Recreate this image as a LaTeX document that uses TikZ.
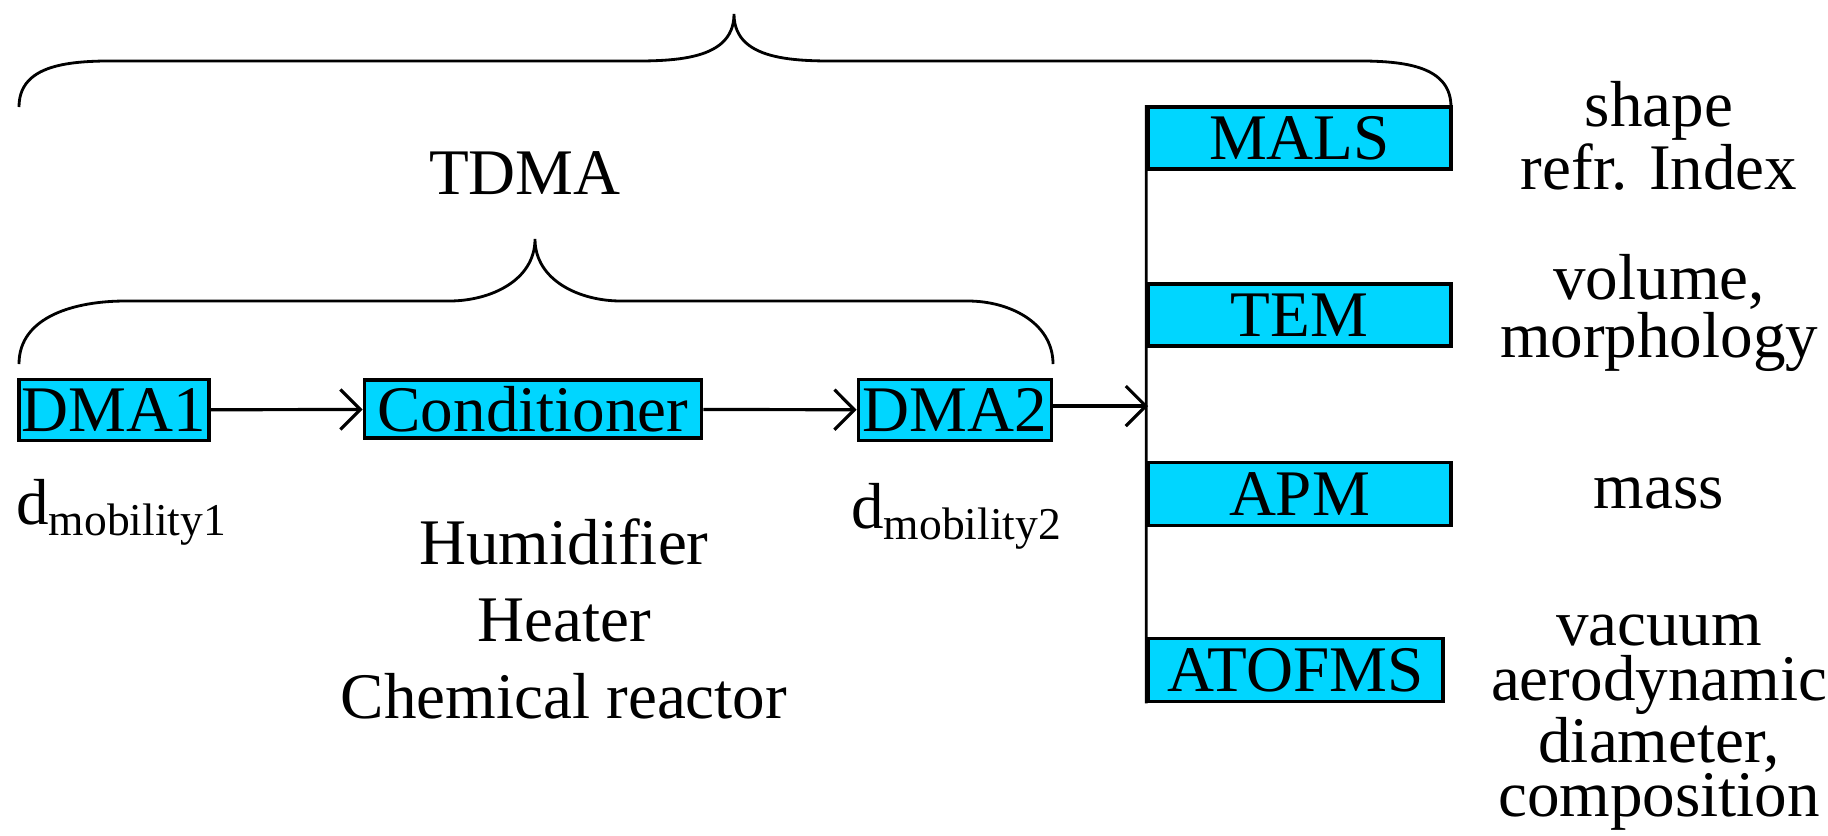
\documentclass[tikz,border=0pt]{standalone}
\usepackage{fontspec}
\setmainfont{Liberation Serif}
\usepackage{tikz}
\usetikzlibrary{arrows.meta, positioning}
\definecolor{instrcyan}{RGB}{0,214,255}
\tikzset{
  FlowArrow/.style = {
    draw, line width = 0.9pt,
    -{Straight Barb[length = 2mm, width = 4mm, line width = 0.9pt]},
  },
  InstrBox/.style = {
    draw, fill = instrcyan, line width = 1pt, inner sep = 0pt,
    font = \fontsize{18.5}{20}\selectfont,
  },
  Remark/.style = {
    align = center, inner sep = 0pt,
  }
}

\begin{document}
\begin{tikzpicture}[x = 0.01cm, y = -0.01cm, line width = 0.8pt,
    every node/.style = {font = \fontsize{18.5}{15}\selectfont}]
      \useasboundingbox (0,0) rectangle (1828,835);
      % braces
      \draw (19,107) to[out=90,in=180] (140,61) -- (614,61)
        to[out=0,in=-90] (734,14) to[out=-90,in=180] (854,61)
        -- (1330,61) to[out=0,in=90] (1451,107);
      \node (tdma) at (525,173) {TDMA};
      \draw (19,364) to[out=90,in=180] (125,301) -- (449,301)
        to[out=0,in=-90] (535,239) to[out=-90,in=180] (621,301)
        -- (968,301) to[out=0,in=90] (1053,364);
      % TDMA chain
      \node[InstrBox, minimum width = 1.90cm, minimum height = 0.61cm] (dma1) at (114,410) {DMA1};
      \node[InstrBox, minimum width = 3.37cm, minimum height = 0.58cm] (cond) at (533,409) {Conditioner};
      \node[InstrBox, minimum width = 1.93cm, minimum height = 0.61cm] (dma2) at (955,410) {DMA2};
      \draw (dma1)[FlowArrow] -- (cond);
      \draw (cond)[FlowArrow] -- (dma2);
      \node[anchor = west, inner sep = 0pt] (dm1) at (15,512) {d\textsubscript{mobility1}};
      \node[anchor = west, inner sep = 0pt] (dm2) at (850,516) {d\textsubscript{mobility2}};
      \node[Remark, font = \fontsize{18.5}{21.8}\selectfont] (cond-txt) at (564,619)
        {Humidifier\\Heater\\Chemical reactor};
      % instruments
      \node[InstrBox, minimum width = 3.03cm, minimum height = 0.62cm] (mals) at (1299.5,138) {MALS};
      \node[InstrBox, minimum width = 3.03cm, minimum height = 0.62cm] (tem) at (1299.5,315) {TEM};
      \node[InstrBox, minimum width = 3.03cm, minimum height = 0.63cm] (apm) at (1299.5,494) {APM};
      \node[InstrBox, minimum width = 2.95cm, minimum height = 0.63cm] (atofms) at (1295.5,670) {ATOFMS};
      \draw (mals.north west) -- (atofms.south west);
      \coordinate (bus) at (1148,406);
      \draw (dma2.east |- bus)[FlowArrow] -- (bus);
      % measured quantities
      \node[Remark, font = \fontsize{18.5}{14.4}\selectfont] (mals-txt) at (1659,136) {shape\\refr. Index};
      \node[Remark, font = \fontsize{18.5}{14.2}\selectfont] (tem-txt) at (1659,313) {volume,\\morphology};
      \node[Remark] (apm-txt) at (1659,493) {mass};
      \node[Remark, font = \fontsize{18.5}{15.4}\selectfont] (atofms-txt) at (1659,723)
        {vacuum\\aerodynamic\\diameter,\\composition};
    \end{tikzpicture}
\end{document}
